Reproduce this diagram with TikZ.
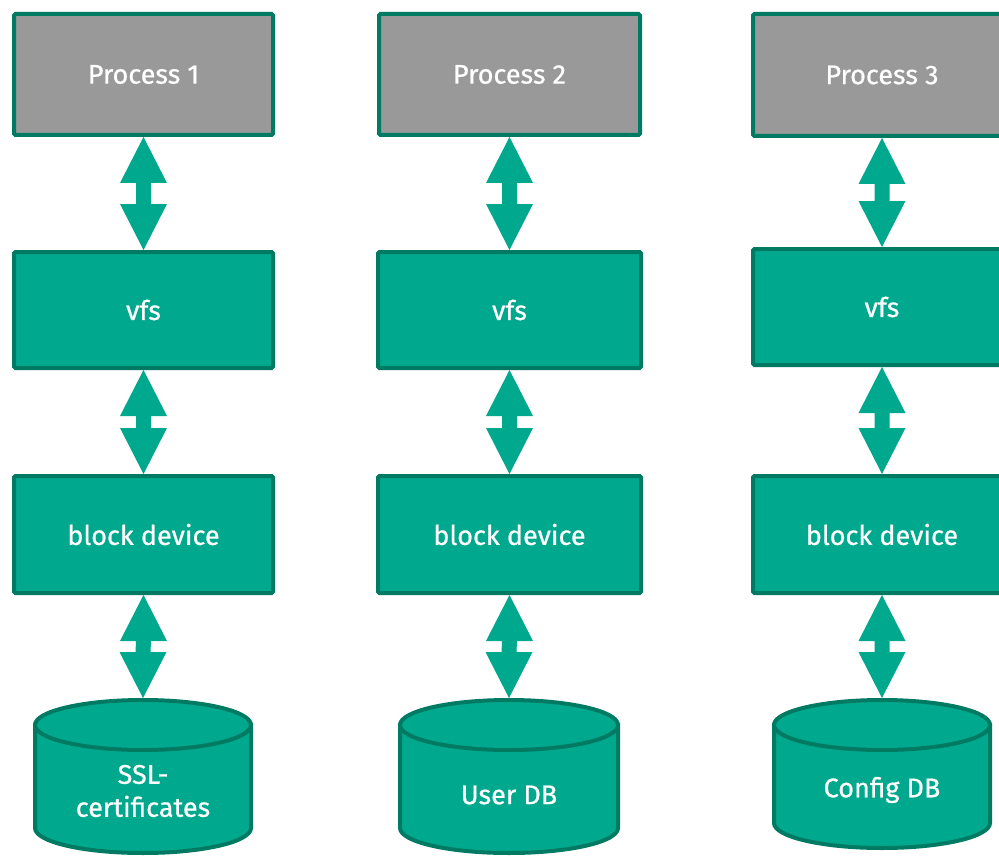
\documentclass[tikz,border=0pt]{standalone}
\usepackage{fontspec}
\setmainfont{Fira Sans}
\newfontfamily\labelfont{Fira Sans}[FakeBold=0.7]
\usetikzlibrary{calc}

\definecolor{kgreen}{HTML}{00A88E}
\definecolor{kborder}{HTML}{007A62}
\definecolor{kgrey}{HTML}{999999}

\tikzset{
  layer/.style={draw=kborder, line width=4pt, fill=kgreen, rounded corners=1.5pt,
    inner sep=0pt, text=white, font=\labelfont\fontsize{27}{30}\selectfont},
  procbox/.style={layer, fill=kgrey},
  cyl/.style={draw=kborder, line width=4pt, fill=kgreen},
  cyltext/.style={text=white, align=center, inner sep=0pt,
    font=\labelfont\fontsize{27}{33}\selectfont},
  biarrowfill/.style={fill=kgreen}
}

% double-headed block arrow with a narrow waist between two anchors
\newcommand\biarrow[2]{%
  \path (#1) coordinate (aT);
  \path (#2) coordinate (aB);
  \fill[biarrowfill] (aT) -- ($(aT)+(23.5,46)$) -- ($(aT)+(7.5,46)$)
    -- ($(aB)+(7.5,-46)$) -- ($(aB)+(23.5,-46)$) -- (aB)
    -- ($(aB)+(-23.5,-46)$) -- ($(aB)+(-7.5,-46)$)
    -- ($(aT)+(-7.5,46)$) -- ($(aT)+(-23.5,46)$) -- cycle;
}

% database cylinder: name, centre x, top y, bottom y, x radius, y radius
\newcommand\dbcyl[6]{%
  \filldraw[cyl] ({#2-#5},#3) -- ({#2-#5},#4)
    arc[start angle=180, end angle=0, x radius=#5, y radius=#6]
    -- ({#2+#5},#3) -- cycle;
  \filldraw[cyl] (#2,#3) ellipse[x radius=#5, y radius=#6];
  \coordinate (#1) at (#2,{#3-#6-2});
}

\begin{document}
\begin{tikzpicture}[x=1pt, y=-1pt]
\useasboundingbox (0,0) rectangle (999,856);

% column 1
\node[procbox, minimum width=259pt, minimum height=121pt] (p1) at (143.5,74.5) {Process 1};
\node[layer, minimum width=259pt, minimum height=116pt] (v1) at (143.5,310) {vfs};
\node[layer, minimum width=259pt, minimum height=117pt] (b1) at (143.5,534.5) {block device};
\dbcyl{d1}{143}{725}{828}{108}{25}
\node[cyltext] (t1) at (143,791) {SSL-\\certificates};

% column 2
\node[procbox, minimum width=261pt, minimum height=121pt] (p2) at (509.5,74.5) {Process 2};
\node[layer, minimum width=263pt, minimum height=116pt] (v2) at (509.5,310) {vfs};
\node[layer, minimum width=263pt, minimum height=117pt] (b2) at (509.5,534.5) {block device};
\dbcyl{d2}{509}{725}{828}{109}{25}
\node[cyltext] (t2) at (509,795) {User DB};

% column 3
\node[procbox, minimum width=258pt, minimum height=122pt] (p3) at (882,75) {Process 3};
\node[layer, minimum width=258pt, minimum height=116pt] (v3) at (882,307) {vfs};
\node[layer, minimum width=258pt, minimum height=117pt] (b3) at (882,534.5) {block device};
\dbcyl{d3}{882}{725}{823}{108}{25}
\node[cyltext] (t3) at (882,790) {Config DB};

% connectors
\biarrow{p1.south}{v1.north}
\biarrow{v1.south}{b1.north}
\biarrow{b1.south}{d1}
\biarrow{p2.south}{v2.north}
\biarrow{v2.south}{b2.north}
\biarrow{b2.south}{d2}
\biarrow{p3.south}{v3.north}
\biarrow{v3.south}{b3.north}
\biarrow{b3.south}{d3}
\end{tikzpicture}
\end{document}
